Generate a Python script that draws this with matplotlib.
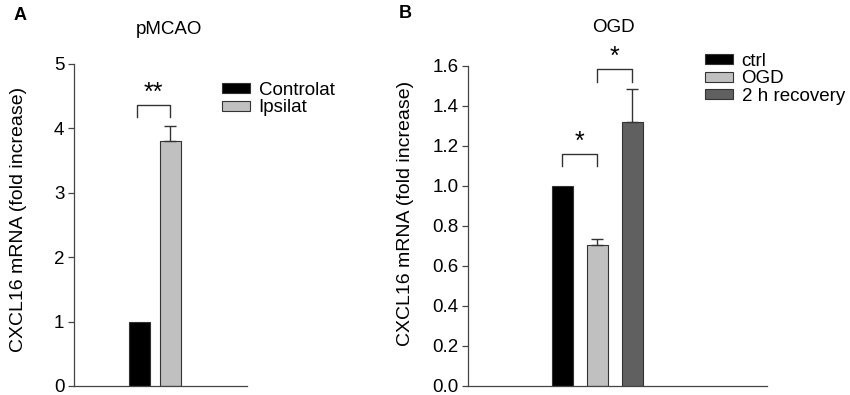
import numpy as np
import matplotlib
matplotlib.use("Agg")
import matplotlib.pyplot as plt

plt.rcParams['font.family'] = ['Liberation Sans', 'DejaVu Sans']

# panel A: pMCAO
a_groups = ["Controlat", "Ipsilat"]
a_means = [1.0, 3.81]
a_err = [0.0, 0.22]
a_colors = ["#000000", "#c0c0c0"]
a_ticks = [0, 1, 2, 3, 4, 5]

# panel B: OGD
b_groups = ["ctrl", "OGD", "2 h recovery"]
b_means = [1.0, 0.706, 1.32]
b_err = [0.0, 0.03, 0.164]
b_colors = ["#000000", "#c0c0c0", "#606060"]
b_ticks = [0.0, 0.2, 0.4, 0.6, 0.8, 1.0, 1.2, 1.4, 1.6]

ylab = "CXCL16 mRNA (fold increase)"

fig = plt.figure(figsize=(8.5, 3.95), dpi=100)
axA = fig.add_axes([74/850, 9/395, 173/850, 322/395])
axB = fig.add_axes([468/850, 9/395, 299/850, 320.3/395])


def style(ax, ticks, fmt):
    for s in ["top", "right"]:
        ax.spines[s].set_visible(False)
    for s in ["left", "bottom"]:
        ax.spines[s].set_color("#444444")
        ax.spines[s].set_linewidth(0.9)
    ax.set_xticks([])
    ax.set_yticks(ticks)
    ax.set_yticklabels([fmt.format(t) for t in ticks])
    ax.tick_params(axis="y", direction="out", length=4, width=0.9,
                   color="#444444", labelsize=13.5, pad=3)


def bracket(ax, x1, x2, y_top, y_leg, text):
    ax.plot([x1, x1, x2, x2], [y_leg, y_top, y_top, y_leg], color="#333333", lw=1)
    ax.text((x1 + x2) / 2, y_top, text, ha="center", va="bottom", fontsize=18)


def legend(ax, bars, labels, x, y):
    ax.legend(bars, labels, loc="upper left", bbox_to_anchor=(x/850, 1 - y/395),
              bbox_transform=fig.transFigure, frameon=False, fontsize=13.5,
              handlelength=1.5, handleheight=0.45, labelspacing=0.02,
              handletextpad=0.45, borderpad=0, borderaxespad=0)


def ylabel(ax, x, y):
    ax.set_ylabel(ylab, fontsize=14)
    ax.yaxis.set_label_coords(x/850, 1 - y/395, transform=fig.transFigure)
    ax.yaxis.label.set_va("center")


# panel A
xa = np.arange(len(a_groups))
barsA = axA.bar(xa, a_means, width=0.68, color=a_colors, edgecolor="#333333", linewidth=0.8)
axA.errorbar(xa[1:], a_means[1:], yerr=[[0], a_err[1:]], fmt="none",
             ecolor="#333333", elinewidth=1, capsize=4)
axA.set_xlim(-2.11, 3.47)
axA.set_ylim(0, 5)
style(axA, a_ticks, "{:d}")
bracket(axA, xa[0] - 0.08, xa[1], 4.36, 4.18, "**")
ylabel(axA, 19, 219)
legend(axA, barsA, a_groups, 222, 82)

# panel B
xb = np.arange(len(b_groups))
barsB = axB.bar(xb, b_means, width=0.6, color=b_colors, edgecolor="#333333", linewidth=0.8)
axB.errorbar(xb[1:], b_means[1:], yerr=[[0, 0], b_err[1:]], fmt="none",
             ecolor="#333333", elinewidth=1, capsize=4)
axB.set_xlim(-2.69, 5.86)
axB.set_ylim(0, 1.6)
style(axB, b_ticks, "{:.1f}")
bracket(axB, xb[0], xb[1], 1.16, 1.10, "*")
bracket(axB, xb[1], xb[2], 1.584, 1.52, "*")
ylabel(axB, 406, 213)
legend(axB, barsB, b_groups, 705, 53)

# titles and panel letters
fig.text(169/850, 1 - 30/395, "pMCAO", ha="center", va="center", fontsize=13.5)
fig.text(613/850, 1 - 27/395, "OGD", ha="center", va="center", fontsize=13.5)
fig.text(20/850, 1 - 15/395, "A", ha="center", va="center", fontsize=13, fontweight="bold")
fig.text(405/850, 1 - 13/395, "B", ha="center", va="center", fontsize=13, fontweight="bold")

fig.savefig("out.png", dpi=100)
